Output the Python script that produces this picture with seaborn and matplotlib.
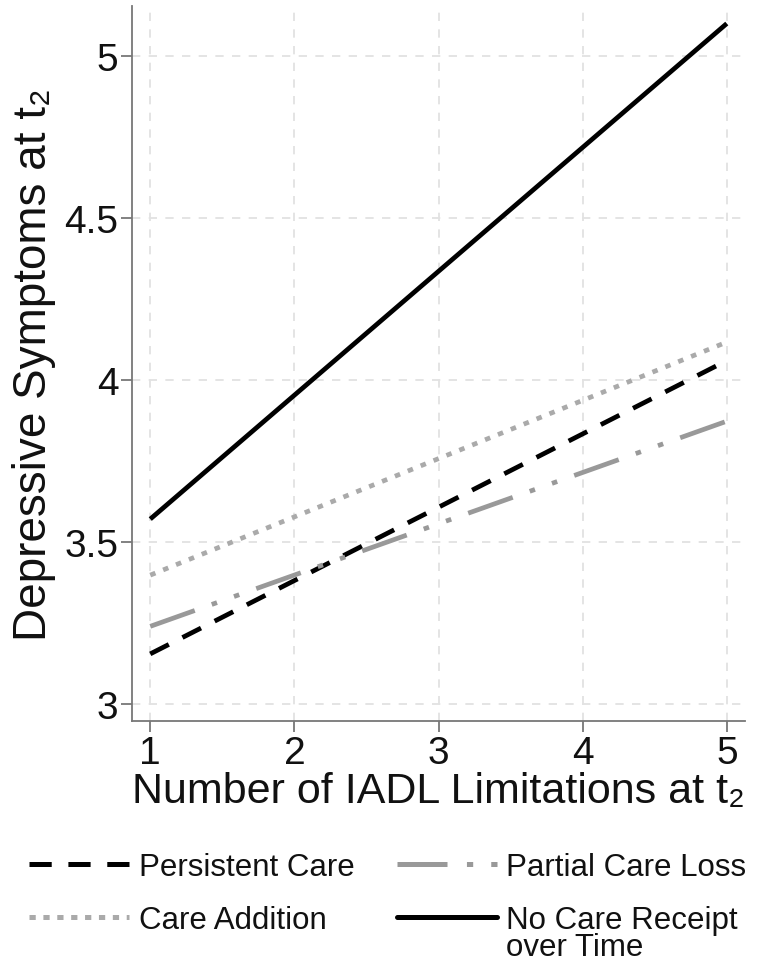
import matplotlib
matplotlib.use("Agg")
import matplotlib.pyplot as plt
import seaborn as sns
import pandas as pd
from matplotlib.lines import Line2D

# ---- data ----
iadl = [1, 5]
groups = ["Persistent Care", "Care Addition", "Partial Care Loss", "No Care Receipt over Time"]
persistent_care = [3.155, 4.06]
care_addition = [3.398, 4.117]
partial_care_loss = [3.24, 3.873]
no_care_receipt = [3.571, 5.10]
x_ticks = [1, 2, 3, 4, 5]
y_ticks = [3, 3.5, 4, 4.5, 5]
y_tick_labels = ["3", "3.5", "4", "4.5", "5"]

series = [persistent_care, care_addition, partial_care_loss, no_care_receipt]
rows = []
for g, vals in zip(groups, series):
    for xv, yv in zip(iadl, vals):
        rows.append({"IADL": xv, "Dep": yv, "Group": g})
df = pd.DataFrame(rows)

sns.set_theme(style="white")
plt.rcParams["font.family"] = ["Liberation Sans", "DejaVu Sans"]
plt.rcParams["lines.scale_dashes"] = False

colors = {
    "Persistent Care": "#000000",
    "Care Addition": "#aaaaaa",
    "Partial Care Loss": "#999999",
    "No Care Receipt over Time": "#000000",
}
dashes = {
    "Persistent Care": (15, 11),
    "Care Addition": (4, 6),
    "Partial Care Loss": (34, 13, 4, 13, 4, 13),
    "No Care Receipt over Time": "",
}

fig = plt.figure(figsize=(7.6, 9.62), dpi=100)
ax = fig.add_axes([0.174, 0.2495, 0.806, 0.7432])

sns.lineplot(data=df, x="IADL", y="Dep", hue="Group", style="Group",
             hue_order=groups, style_order=groups,
             palette=colors, dashes=dashes, linewidth=3.4, ax=ax, legend=False)
for ln in ax.get_lines():
    ln.set_dash_capstyle("butt")
    ln.set_solid_capstyle("butt")

ax.set_xlim(0.875, 5.125)
ax.set_ylim(2.948, 5.154)
ax.set_xticks(x_ticks)
ax.set_yticks(y_ticks)
ax.set_yticklabels(y_tick_labels)
ax.grid(True, color="#e2e2e2", linestyle=(0, (6, 6)), linewidth=1.3)
for s in ["top", "right"]:
    ax.spines[s].set_visible(False)
for s in ["left", "bottom"]:
    ax.spines[s].set_color("#777777")
    ax.spines[s].set_linewidth(1.3)
ax.tick_params(axis="both", direction="out", length=8, width=1.3, color="#777777",
               labelsize=28, labelcolor="#111111", pad=2)
ax.tick_params(axis="both", bottom=True, left=True)

ax.set_xlabel("Number of IADL Limitations at t\u2082", fontsize=31, color="#111111", labelpad=0)
ax.set_ylabel("Depressive Symptoms at t\u2082", fontsize=33, color="#111111", labelpad=6)

handles = [
    Line2D([], [], color=colors["Persistent Care"], lw=3.6, dashes=(16, 12), dash_capstyle="butt"),
    Line2D([], [], color=colors["Care Addition"], lw=3.6, dashes=(4.5, 5.5), dash_capstyle="butt"),
    Line2D([], [], color=colors["Partial Care Loss"], lw=3.6, dashes=(36, 14, 4.5, 13, 4.5, 13), dash_capstyle="butt"),
    Line2D([], [], color=colors["No Care Receipt over Time"], lw=3.6),
]
labels = ["Persistent Care", "Care Addition", "Partial Care Loss", "No Care Receipt"]
leg = fig.legend(handles, labels, ncol=2, loc="upper left",
                 bbox_to_anchor=(0.038, 0.1135), frameon=False, fontsize=22.5,
                 handlelength=3.2, handletextpad=0.31, columnspacing=1.35,
                 labelspacing=0.74, borderpad=0, borderaxespad=0)
for t in leg.get_texts():
    t.set_color("#111111")

# draw the 4th label as a two-line text aligned with its legend row
fig.canvas.draw()
t4 = leg.get_texts()[3]
ext = t4.get_window_extent()
x0 = ext.x0 / fig.bbox.width
y_top = ext.y1 / fig.bbox.height
t4.set_text(" ")
fig.text(x0, y_top, "No Care Receipt\nover Time", fontsize=22.5, color="#111111",
         ha="left", va="top", linespacing=0.86)

fig.savefig("out.png", dpi=100)
